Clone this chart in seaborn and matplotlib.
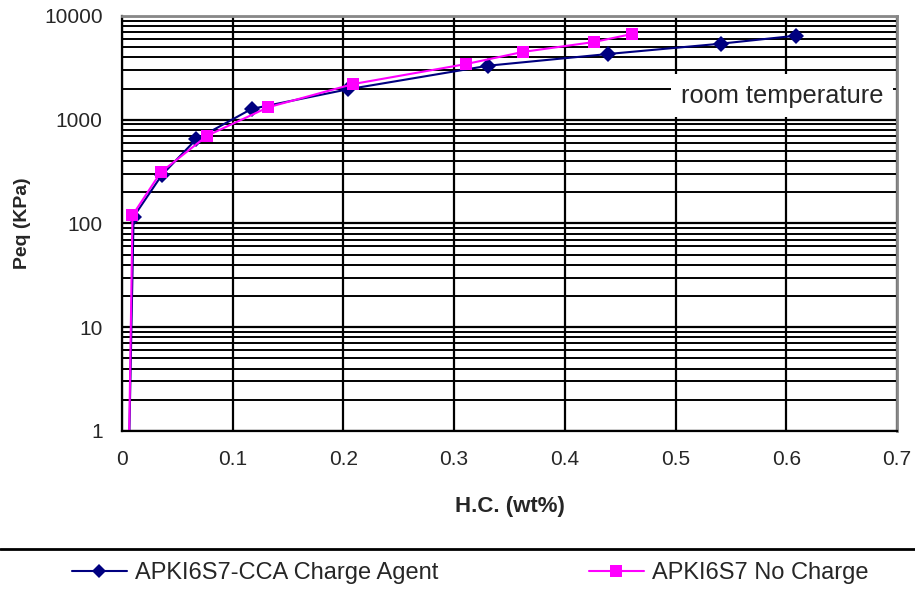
import seaborn as sns
import pandas as pd
import matplotlib.pyplot as plt
from matplotlib.ticker import LogLocator, FuncFormatter, MultipleLocator
from matplotlib.lines import Line2D

sns.set_style("white")
plt.rcParams["font.family"] = ["Liberation Sans", "DejaVu Sans"]

# data (H.C. wt%, Peq KPa)
cca_x = [0.006, 0.0105, 0.036, 0.067, 0.117, 0.204, 0.331, 0.439, 0.541, 0.609]
cca_y = [0.4, 116, 293, 648, 1270, 1965, 3320, 4300, 5410, 6460]
nc_x = [0.006, 0.0095, 0.035, 0.077, 0.132, 0.209, 0.311, 0.362, 0.4265, 0.4605]
nc_y = [0.4, 120, 311, 702, 1318, 2210, 3445, 4500, 5615, 6700]
names = ["APKI6S7-CCA Charge Agent", "APKI6S7 No Charge"]

df = pd.concat([
    pd.DataFrame({"x": cca_x, "y": cca_y, "series": names[0]}),
    pd.DataFrame({"x": nc_x, "y": nc_y, "series": names[1]}),
])

fig = plt.figure(figsize=(9.15, 5.92), dpi=100)
ax = fig.add_axes([0.1333, 0.272, 0.847, 0.701])

palette = {names[0]: "#000080", names[1]: "#FF00FF"}
markers = {names[0]: "D", names[1]: "s"}
sns.lineplot(data=df, x="x", y="y", hue="series", style="series", palette=palette,
             markers=markers, dashes=False, sort=False, markersize=8.5,
             markeredgewidth=0, linewidth=1.5, ax=ax, legend=False)

ax.set_yscale("log")
ax.set_xlim(0, 0.7)
ax.set_ylim(1, 10000)
ax.xaxis.set_major_locator(MultipleLocator(0.1))
ax.xaxis.set_major_formatter(FuncFormatter(lambda v, p: f"{v:g}"))
ax.yaxis.set_major_locator(LogLocator(base=10))
ax.yaxis.set_minor_locator(LogLocator(base=10, subs=range(2, 10)))
ax.yaxis.set_major_formatter(FuncFormatter(lambda v, p: f"{v:g}"))
ax.grid(True, which="major", color="black", linewidth=1.6)
ax.grid(True, which="minor", axis="y", color="black", linewidth=1.4)
ax.set_axisbelow(True)
ax.tick_params(axis="both", which="major", direction="out", length=6, width=1.5,
               color="black", labelsize=15, pad=8)
ax.tick_params(axis="y", which="minor", length=0)
for side in ["left", "bottom"]:
    ax.spines[side].set_color("black")
    ax.spines[side].set_linewidth(1.6)
for side in ["top", "right"]:
    ax.spines[side].set_color("#888888")
    ax.spines[side].set_linewidth(2)

ax.set_xlabel("H.C. (wt%)", fontsize=16, fontweight="bold")
ax.set_ylabel("Peq (KPa)", fontsize=14, fontweight="bold")
ax.xaxis.set_label_coords(0.5, -0.156)
ax.yaxis.set_label_coords(-0.117, 0.5)

ax.text(0.505, 1700, "room temperature", fontsize=18.3, va="center", ha="left",
        bbox=dict(facecolor="white", edgecolor="none", pad=7), clip_on=True, zorder=5)

# separator line above the legend
fig.add_artist(Line2D([0, 1], [0.0726, 0.0726], color="black", linewidth=2))

handles = [Line2D([], [], color=palette[n], marker=markers[n], markersize=8.5 if n == names[1] else 7.5,
                  markeredgewidth=0, linewidth=1.5) for n in names]
fig.legend(handles, names, loc="center", bbox_to_anchor=(0.514, 0.032), ncol=2,
           frameon=False, fontsize=17, handlelength=2.3, handletextpad=0.35,
           columnspacing=6.4)

fig.savefig("out.png", dpi=100)
